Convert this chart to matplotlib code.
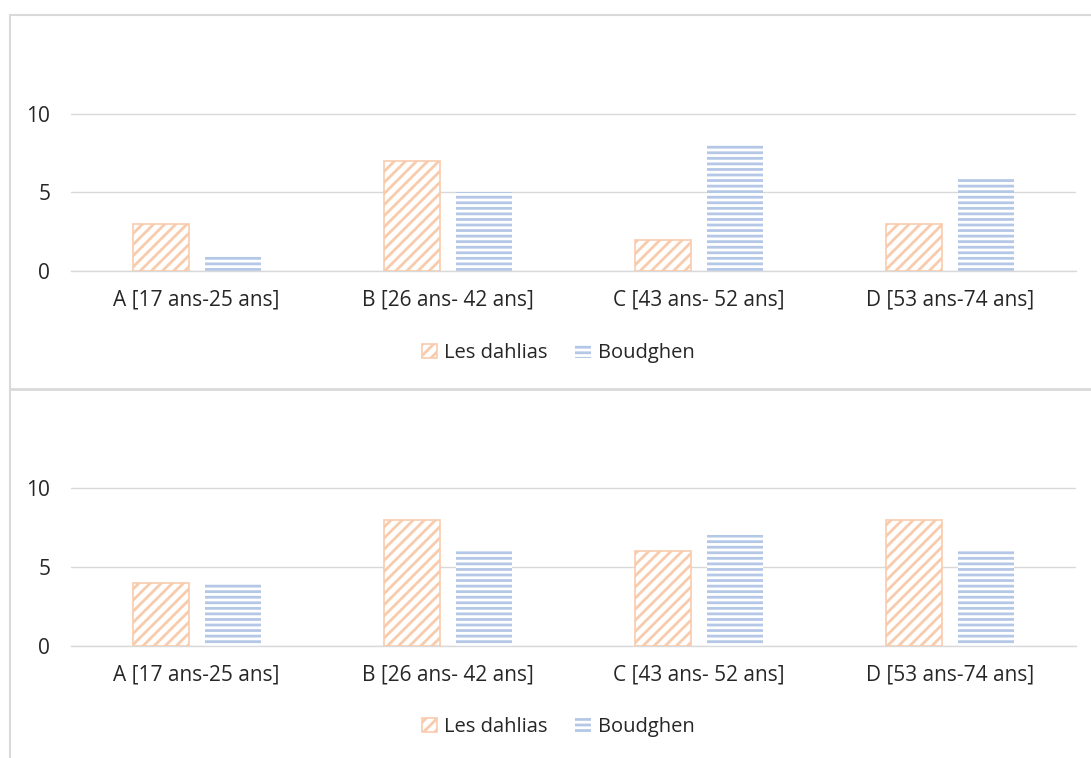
import matplotlib
matplotlib.use("Agg")
import matplotlib.pyplot as plt
import numpy as np
from matplotlib.lines import Line2D

# ── Data ─────────────────────────────────────────────────────────────────────
categories = ["A [17 ans-25 ans]", "B [26 ans- 42 ans]",
              "C [43 ans- 52 ans]", "D [53 ans-74 ans]"]
series_names = ["Les dahlias", "Boudghen"]
top_dahlias = [3, 7, 2, 3]
top_boudghen = [1, 5, 8, 6]
bottom_dahlias = [4, 8, 6, 8]
bottom_boudghen = [4, 6, 7, 6]
y_ticks = [0, 5, 10]

ORANGE = "#F8CBAD"
BLUE = "#B4C7E7"
GRID = "#D9D9D9"
TEXT = "#262626"

plt.rcParams["font.family"] = ["Open Sans", "DejaVu Sans"]
plt.rcParams["hatch.linewidth"] = 2.0

W, H = 1091, 758
fig = plt.figure(figsize=(W / 100, H / 100), dpi=100)


def px_axes(left, right, top, bottom):
    """Axes rectangle from pixel coordinates (origin top-left)."""
    return fig.add_axes([left / W, 1 - bottom / H, (right - left) / W, (bottom - top) / H])


def draw_panel(ax, dahlias, boudghen, legend_y):
    x = np.arange(len(categories))
    w, off = 0.223, 0.143
    ax.bar(x - off, dahlias, w, facecolor="white", edgecolor=ORANGE,
           hatch="///", linewidth=1.2, zorder=3, label=series_names[0])
    ax.bar(x + off, boudghen, w, facecolor="white", edgecolor=BLUE,
           hatch="---", linewidth=0, zorder=3, label=series_names[1])

    ax.set_xlim(-0.5, len(categories) - 0.5)
    ax.set_ylim(0, 15)
    ax.set_yticks(y_ticks)
    ax.set_xticks(x)
    ax.set_xticklabels(categories)
    ax.grid(axis="y", color=GRID, linewidth=1.0, zorder=0)
    for s in ["top", "right", "left"]:
        ax.spines[s].set_visible(False)
    ax.spines["bottom"].set_color(GRID)
    ax.spines["bottom"].set_linewidth(1.0)
    ax.tick_params(axis="both", length=0, labelsize=15, colors=TEXT)
    ax.tick_params(axis="y", pad=15)
    ax.tick_params(axis="x", pad=13)
    ax.set_facecolor("none")

    handles, labels = ax.get_legend_handles_labels()
    fig.legend(handles, labels, loc="center", bbox_to_anchor=(558 / W, 1 - legend_y / H),
               ncol=2, frameon=False, fontsize=14.5, handlelength=0.75, handleheight=0.75,
               handletextpad=0.35, columnspacing=1.4, labelcolor=TEXT)


ax_top = px_axes(71, 1076, 271 - 15 * 15.7, 271)
draw_panel(ax_top, top_dahlias, top_boudghen, 353)

ax_bot = px_axes(71, 1076, 646 - 15 * 15.8, 646)
draw_panel(ax_bot, bottom_dahlias, bottom_boudghen, 727)

# ── Chart frames ─────────────────────────────────────────────────────────────
frame_kw = dict(color=GRID, linewidth=1.5, transform=fig.transFigure)
fig.add_artist(Line2D([10 / W, 1], [1 - 14.5 / H, 1 - 14.5 / H], **frame_kw))
fig.add_artist(Line2D([10 / W, 10 / W], [1 - 14.5 / H, 0], **frame_kw))
fig.add_artist(Line2D([10 / W, 1], [1 - 389 / H, 1 - 389 / H], color=GRID,
                      linewidth=2, transform=fig.transFigure))

fig.savefig("out.png", dpi=100)
